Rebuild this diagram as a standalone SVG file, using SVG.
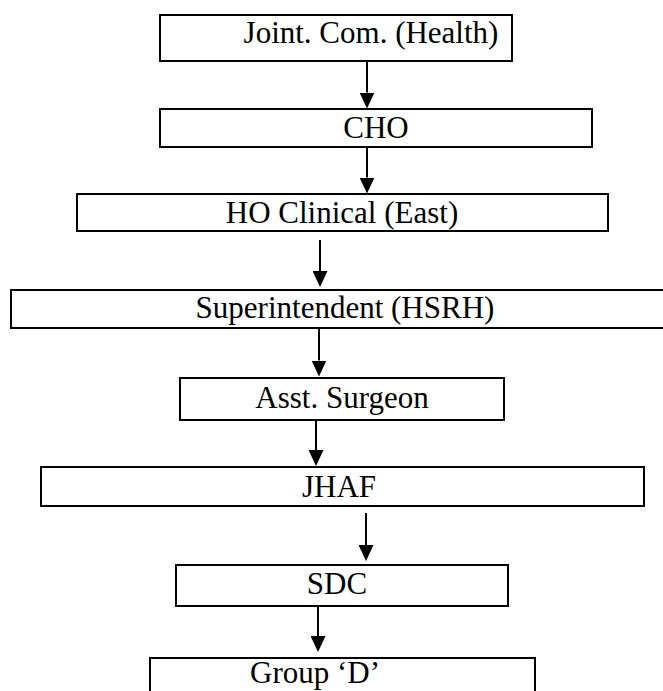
<svg xmlns="http://www.w3.org/2000/svg" width="663" height="691" viewBox="0 0 663 691">
<style>
  .box { fill: #ffffff; stroke: #000000; stroke-width: 2; }
  .lbl { font-family: "Liberation Serif", "Times New Roman", serif; font-size: 31px; fill: #000000; text-anchor: middle; }
  .conn { stroke: #000000; stroke-width: 2; fill: none; marker-end: url(#ah); }
</style>
<defs>
  <marker id="ah" markerUnits="userSpaceOnUse" markerWidth="16" markerHeight="15" viewBox="0 0 16 15" refX="0" refY="7.5" orient="auto">
    <path d="M0,0 L16,7.5 L0,15 z" fill="#000000"/>
  </marker>
</defs>
<rect x="0" y="0" width="663" height="691" fill="#ffffff"/>
<g id="connectors">
  <line class="conn" x1="367" y1="61" x2="367" y2="92.5"/>
  <line class="conn" x1="367" y1="147" x2="367" y2="177.5"/>
  <line class="conn" x1="320" y1="240" x2="320" y2="271"/>
  <line class="conn" x1="319" y1="328" x2="319" y2="360.5"/>
  <line class="conn" x1="316" y1="417" x2="316" y2="450"/>
  <line class="conn" x1="366" y1="513" x2="366" y2="545"/>
  <line class="conn" x1="318" y1="604" x2="318" y2="636"/>
</g>
<g id="n1">
  <rect class="box" x="160" y="15" width="352" height="46"/>
  <text class="lbl" x="371" y="43">Joint. Com. (Health)</text>
</g>
<g id="n2">
  <rect class="box" x="160" y="109" width="432" height="38"/>
  <text class="lbl" x="376" y="138">CHO</text>
</g>
<g id="n3">
  <rect class="box" x="77" y="194" width="531" height="37"/>
  <text class="lbl" x="342" y="222.5">HO Clinical (East)</text>
</g>
<g id="n4">
  <rect class="box" x="11" y="290" width="660" height="38"/>
  <text class="lbl" x="345" y="318">Superintendent (HSRH)</text>
</g>
<g id="n5">
  <rect class="box" x="180" y="378" width="324" height="42"/>
  <text class="lbl" x="342" y="407.5">Asst. Surgeon</text>
</g>
<g id="n6">
  <rect class="box" x="41" y="467" width="603" height="39"/>
  <text class="lbl" x="339" y="496.5">JHAF</text>
</g>
<g id="n7">
  <rect class="box" x="176" y="565" width="332" height="41"/>
  <text class="lbl" x="337" y="594">SDC</text>
</g>
<g id="n8">
  <rect class="box" x="150" y="658" width="385" height="50"/>
  <text class="lbl" x="315" y="683">Group ‘D’</text>
</g>
</svg>
